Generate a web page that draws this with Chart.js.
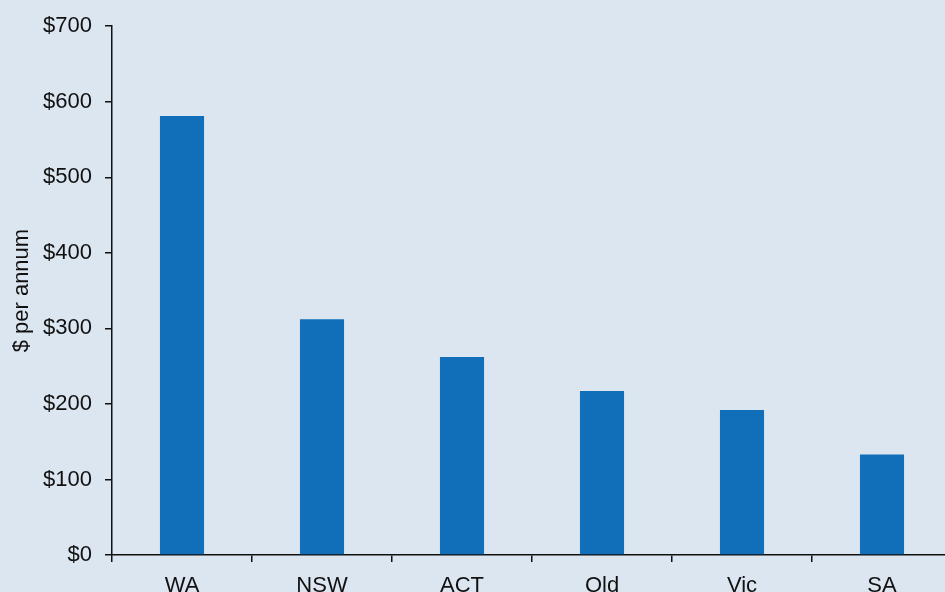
<!DOCTYPE html>
<html>
<head>
<meta charset="utf-8">
<script src="https://cdn.jsdelivr.net/npm/chart.js@4"></script>
<style>
  html, body { margin: 0; padding: 0; background: #dce6f0; overflow: hidden; }
  #wrap { width: 960px; height: 592px; position: relative; }
</style>
</head>
<body>
<div id="wrap"><canvas id="chart"></canvas></div>
<script>
const STATES = ["WA", "NSW", "ACT", "Qld", "Vic", "SA"];
const COST = [581, 312, 262, 217, 192, 133];
const Y_MAX = 700;
const Y_STEP = 100;

const FONT = "'Liberation Sans', Arial, sans-serif";
const INK = '#111111';

new Chart(document.getElementById('chart'), {
  type: 'bar',
  data: {
    labels: STATES,
    datasets: [{
      data: COST,
      backgroundColor: '#116fba',
      borderWidth: 0,
      barPercentage: 0.315,
      categoryPercentage: 1
    }]
  },
  options: {
    responsive: true,
    maintainAspectRatio: false,
    animation: false,
    layout: { padding: { top: 24, right: 8, left: 0, bottom: 0 } },
    plugins: { legend: { display: false }, tooltip: { enabled: false } },
    scales: {
      x: {
        afterFit: s => { s.height = 37; },
        grid: { drawOnChartArea: false, drawTicks: true, tickLength: 7, color: INK, lineWidth: 1.5 },
        border: { display: true, color: INK, width: 1.5 },
        ticks: { color: INK, font: { family: FONT, size: 22 }, padding: 11, maxRotation: 0 }
      },
      y: {
        min: 0,
        max: Y_MAX,
        afterFit: s => { s.width = 112; },
        grid: { drawOnChartArea: false, drawTicks: true, tickLength: 7, color: INK, lineWidth: 1.5 },
        border: { display: true, color: INK, width: 1.5 },
        ticks: {
          stepSize: Y_STEP,
          color: INK,
          font: { family: FONT, size: 22 },
          padding: 13,
          callback: v => '$' + v
        },
        title: {
          display: true,
          text: '$ per annum',
          color: INK,
          font: { family: FONT, size: 22 },
          padding: { top: 9, bottom: 0 }
        }
      }
    }
  }
});
</script>
</body>
</html>
